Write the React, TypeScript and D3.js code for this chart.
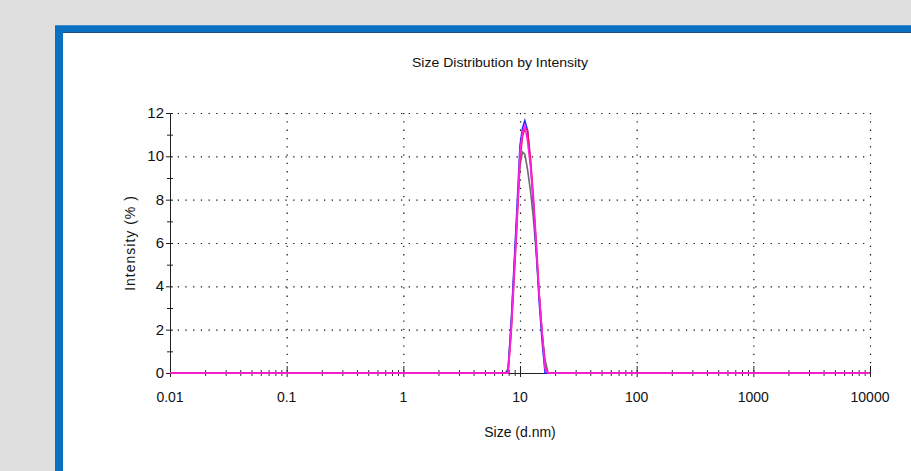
import React from "react";
import * as d3 from "d3";

const W = 911;
const H = 471;

const sizes = [0.01, 7.5, 7.9, 8.4, 8.9, 9.4, 10.0, 10.5, 11.0, 11.6, 12.3, 13.0, 13.8, 14.6, 15.5, 16.4, 17.4, 10000];
const grayVals = [0, 0, 0.2, 2.2, 4.8, 7.2, 9.6, 10.2, 10.1, 9.4, 8.4, 7.2, 5.5, 3.6, 1.8, 0.6, 0, 0];
const blueVals = [0, 0, 0.1, 2.3, 5.0, 7.5, 10.5, 11.3, 11.65, 11.2, 9.7, 7.9, 5.6, 3.3, 1.4, 0, 0, 0];
const redVals = [0, 0, 0, 1.8, 4.3, 6.7, 9.8, 10.9, 11.3, 11.2, 9.9, 8.2, 6.0, 3.7, 1.8, 0.3, 0, 0];
const magentaVals = [0, 0, 0, 2.0, 4.6, 7.0, 10.2, 11.1, 11.4, 10.7, 9.5, 8.0, 5.8, 3.6, 1.8, 0.2, 0, 0];

const seriesList = [
  { name: "gray", color: "#6a6a6a", values: grayVals },
  { name: "blue", color: "#2a2aff", values: blueVals },
  { name: "red", color: "#ff1050", values: redVals },
  { name: "magenta", color: "#ff22ee", values: magentaVals },
];

const xTickValues = [0.01, 0.1, 1, 10, 100, 1000, 10000];
const xTickLabels = ["0.01", "0.1", "1", "10", "100", "1000", "10000"];
const yTickValues = [0, 2, 4, 6, 8, 10, 12];
const yMinorValues = [1, 3, 5, 7, 9, 11];

const title = "Size Distribution by Intensity";
const xLabel = "Size (d.nm)";
const yLabel = "Intensity (% )";

const FONT = "'Liberation Sans Narrow', 'Liberation Sans', Arial, sans-serif";

export default function App() {
  const left = 170, right = 870, top = 113, bottom = 373;
  const x = d3.scaleLog().domain([0.01, 10000]).range([left, right]);
  const y = d3.scaleLinear().domain([0, 12]).range([bottom, top]);

  const xMinor: number[] = [];
  for (let d = -2; d < 4; d++) {
    for (let k = 2; k <= 9; k++) xMinor.push(k * Math.pow(10, d));
  }

  const line = d3
    .line<number>()
    .x((_, i) => x(sizes[i]))
    .y((v) => y(v));

  return (
    <svg
      width={W}
      height={H}
      style={{ position: "absolute", left: 0, top: 0, display: "block" }}
    >
      <rect x={0} y={0} width={W} height={H} fill="#dfdfdf" />
      {/* blue frame */}
      <rect x={55} y={25} width={W - 55} height={H - 25} fill="#0a70c2" />
      <rect x={55} y={25} width={W - 55} height={1} fill="#3d8ad0" />
      <rect x={63} y={33} width={W - 63} height={H - 33} fill="#ffffff" />
      <rect x={63} y={32} width={W - 63} height={1} fill="#1c4f82" />

      {/* title */}
      <text x={500} y={67} textAnchor="middle" fontFamily={FONT} fontSize={13} fill="#111" textLength={176} lengthAdjust="spacingAndGlyphs">
        {title}
      </text>

      {/* horizontal dotted grid */}
      {yTickValues.filter((v) => v > 0).map((v) => (
        <line key={"hg" + v} x1={left} x2={right} y1={y(v) + 0.5} y2={y(v) + 0.5} stroke="#111" strokeWidth={1.2} strokeDasharray="1.3 6.4" />
      ))}
      {/* vertical dotted grid */}
      {xTickValues.slice(1).map((v) => (
        <line key={"vg" + v} x1={x(v) + 0.5} x2={x(v) + 0.5} y1={top} y2={bottom} stroke="#111" strokeWidth={1.2} strokeDasharray="1.3 7" />
      ))}

      {/* axes */}
      <line x1={left + 0.5} x2={left + 0.5} y1={top} y2={bottom + 1} stroke="#222" strokeWidth={1} />
      <line x1={left} x2={right + 1} y1={bottom + 0.5} y2={bottom + 0.5} stroke="#222" strokeWidth={1} />

      {/* y ticks */}
      {yTickValues.map((v) => (
        <line key={"yt" + v} x1={left - 4} x2={left + 3} y1={y(v) + 0.5} y2={y(v) + 0.5} stroke="#222" />
      ))}
      {yMinorValues.map((v) => (
        <line key={"ym" + v} x1={left - 3} x2={left + 3} y1={y(v) + 0.5} y2={y(v) + 0.5} stroke="#222" />
      ))}
      {/* x ticks */}
      {xTickValues.map((v) => (
        <line key={"xt" + v} x1={x(v) + 0.5} x2={x(v) + 0.5} y1={bottom - 7} y2={bottom + 4} stroke="#222" />
      ))}
      {xMinor.map((v) => (
        <line key={"xm" + v} x1={x(v) + 0.5} x2={x(v) + 0.5} y1={bottom - 3} y2={bottom + 3} stroke="#333" />
      ))}

      {/* tick labels */}
      {yTickValues.map((v) => (
        <text key={"yl" + v} x={left - 6} y={y(v) + 5} textAnchor="end" fontFamily={FONT} fontSize={15} fill="#111">
          {v}
        </text>
      ))}
      {xTickValues.map((v, i) => (
        <text key={"xl" + v} x={x(v)} y={bottom + 29} textAnchor="middle" fontFamily={FONT} fontSize={14} fill="#111">
          {xTickLabels[i]}
        </text>
      ))}

      {/* axis labels */}
      <text x={520} y={437} textAnchor="middle" fontFamily={FONT} fontSize={14} fill="#111">
        {xLabel}
      </text>
      <text transform={`translate(135,243) rotate(-90)`} textAnchor="middle" fontFamily={FONT} fontSize={14} fill="#111" letterSpacing={1}>
        {yLabel}
      </text>

      {/* series */}
      {seriesList.map((s) => (
        <path key={s.name} d={line(s.values) || ""} fill="none" stroke={s.color} strokeWidth={1.6} />
      ))}
    </svg>
  );
}
